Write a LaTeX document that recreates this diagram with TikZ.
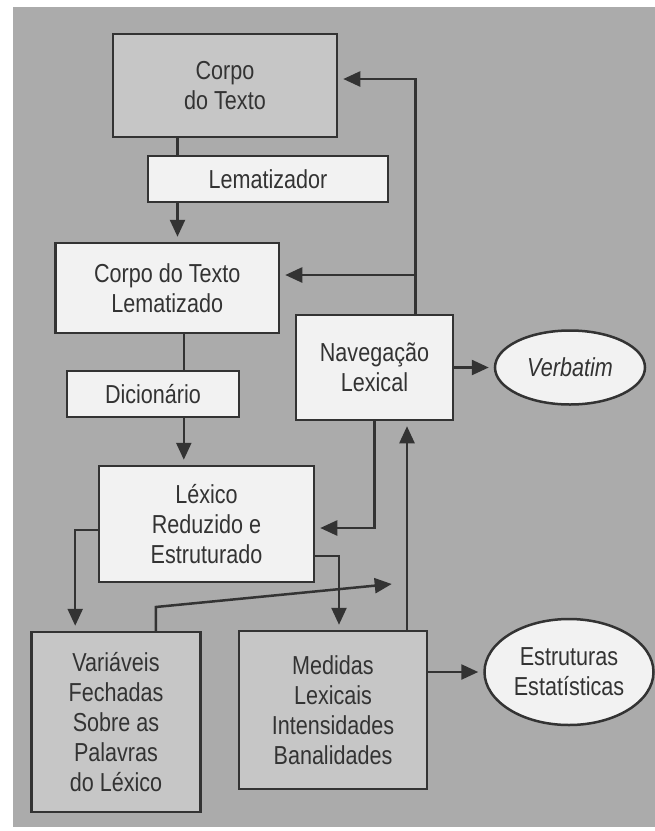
\documentclass[tikz,border=0pt]{standalone}
\usepackage{fontspec}
\setmainfont{Liberation Sans}[FakeStretch=0.83]
\usetikzlibrary{arrows.meta,shapes.geometric}
\definecolor{bgc}{HTML}{ABABAB}
\definecolor{grayfill}{HTML}{C6C6C6}
\definecolor{whitefill}{HTML}{F2F2F2}
\definecolor{ink}{HTML}{333333}
\tikzset{
  base/.style={draw=ink, line width=2.5pt, text=ink, align=center, inner sep=0pt,
    font=\fontsize{26}{30}\selectfont},
  wbox/.style={base, rectangle, fill=whitefill},
  gbox/.style={base, rectangle, fill=grayfill},
  oval/.style={base, ellipse, fill=whitefill},
  link/.style={draw=ink, line width=2.5pt},
  arr/.style={link, -{Triangle[length=17pt,width=15pt]}, shorten >=5pt},
}
\begin{document}
\begin{tikzpicture}[x=1pt,y=-1pt]
\useasboundingbox (0,0) rectangle (655,831);
\fill[white] (0,0) rectangle (655,831);
\fill[bgc] (13,7) rectangle (655,827);

\node[gbox, minimum width=224pt, minimum height=103pt] (corpo) at (225,85.5) {Corpo\\do Texto};
\node[wbox, minimum width=240pt, minimum height=46pt] (lemat) at (268,179) {Lematizador};
\node[wbox, minimum width=223.5pt, minimum height=90pt] (corpoLem) at (167.25,288) {Corpo do Texto\\Lematizado};
\node[wbox, minimum width=157pt, minimum height=105pt] (nav) at (374.5,367.5) {Navegação\\Lexical};
\node[oval, minimum width=150pt, minimum height=74pt] (verb) at (570,367.5) {\itshape Verbatim};
\node[wbox, minimum width=172pt, minimum height=46pt] (dic) at (153,394) {Dicionário};
\node[wbox, minimum width=215pt, minimum height=116pt] (lex) at (206.5,524) {Léxico\\Reduzido e\\Estruturado};
\node[gbox, minimum width=169pt, minimum height=180pt] (var) at (116,722) {Variáveis\\Fechadas\\Sobre as\\Palavras\\do Léxico};
\node[gbox, minimum width=188pt, minimum height=158pt] (med) at (333,710) {Medidas\\Lexicais\\Intensidades\\Banalidades};
\node[oval, minimum width=169pt, minimum height=106pt] (estr) at (569,672) {Estruturas\\Estatísticas};

\coordinate (c1) at (177.5,0);
\coordinate (c2) at (183.8,0);
\coordinate (ja) at (415.6,79);
\coordinate (jb) at (415.6,275);
\coordinate (jc) at (374.7,528);
\coordinate (jd) at (407,0);
\coordinate (je) at (75.2,530);
\coordinate (jf) at (339,556);
\coordinate (jg) at (155.8,607);
\coordinate (jh) at (391.7,584);

% main chain
\draw[link] (corpo.south -| c1) -- (lemat.north -| c1);
\draw[arr] (lemat.south -| c1) -- (corpoLem.north -| c1);
\draw[link] (corpoLem.south -| c2) -- (dic.north -| c2);
\draw[arr] (dic.south -| c2) -- (lex.north -| c2);

% navigation feedback
\draw[arr] (nav.north -| ja) -- (ja) -- (corpo.east |- ja);
\draw[arr] (jb) -- (corpoLem.east |- jb);
\draw[arr] (nav.east) -- (verb.west);
\draw[arr] (nav.south -| jc) -- (jc) -- (lex.east |- jc);
\draw[arr] (med.north -| jd) -- (nav.south -| jd);

% lexicon branches
\draw[arr] (lex.west |- je) -- (je) -- (var.north -| je);
\draw[arr] (lex.east |- jf) -- (jf) -- (med.north -| jf);
\draw[arr, shorten >=0pt] (var.north -| jg) -- (jg) -- (jh);
\draw[arr] (med.east |- 0,672) -- (estr.west);
\end{tikzpicture}
\end{document}
